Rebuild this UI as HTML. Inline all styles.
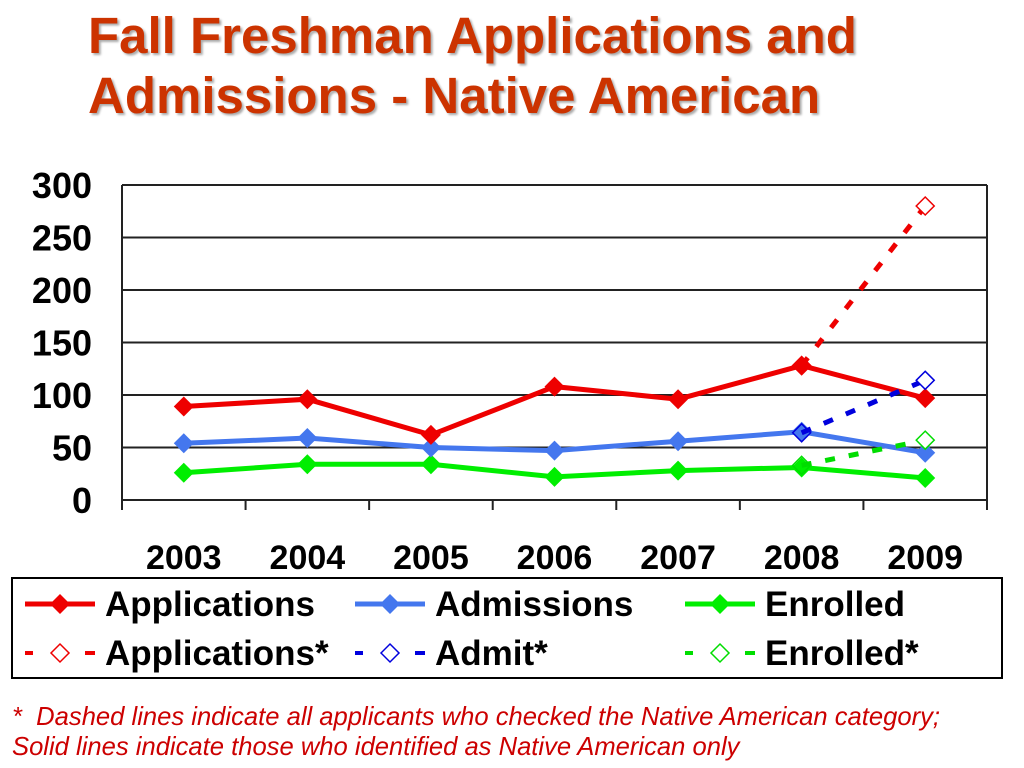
<!DOCTYPE html>
<html><head><meta charset="utf-8"><style>
body{margin:0;background:#fff;width:1024px;height:768px;overflow:hidden;font-family:"Liberation Sans",Arial,sans-serif}
.t{position:absolute;left:88px;top:6px;font-size:51px;font-weight:bold;color:#cc3300;line-height:60px;text-shadow:2px 2px 2px #aaa;white-space:nowrap}
.note{position:absolute;left:12px;top:702px;font-size:25.6px;font-style:italic;color:#cc0000;line-height:30px;white-space:nowrap}
</style></head><body>
<div class="t">Fall Freshman Applications and<br>Admissions - Native American</div>
<svg id="c" width="1024" height="768" style="position:absolute;left:0;top:0"></svg>
<div class="note">*&nbsp; Dashed lines indicate all applicants who checked the Native American category;<br>Solid lines indicate those who identified as Native American only</div>
<script>
const categories=["2003","2004","2005","2006","2007","2008","2009"];
const applications=[89,96,62,108,96,128,97];
const admissions=[54,59,50,47,56,65,45];
const enrolled=[26,34,34,22,28,31,21];
const applicationsStar=[128,280];
const admitStar=[64,114];
const enrolledStar=[33,57];
const yTicks=[0,50,100,150,200,250,300];
const NS="http://www.w3.org/2000/svg";
const svg=document.getElementById('c');
const L=122,R=987,T=185,B=500,ymax=300;
const bw=(R-L)/categories.length;
const x=i=>L+bw*(i+0.5);
const y=v=>B-(v/ymax)*(B-T);
function mk(tag,a,txt){const e=document.createElementNS(NS,tag);for(const k in a)e.setAttribute(k,a[k]);if(txt!==undefined)e.textContent=txt;svg.appendChild(e);return e;}
yTicks.forEach(v=>{
 const g=mk('line',{x1:L,x2:R,y1:y(v),y2:y(v),stroke:'#222','stroke-width':2});
 
 
 const t=mk('text',{x:92,y:y(v)+13,'text-anchor':'end','font-size':36,'font-weight':'bold',fill:'#000'},v);
 
 
});
mk('line',{x1:L,x2:L,y1:T,y2:B,stroke:'#222','stroke-width':2});
mk('line',{x1:R,x2:R,y1:T,y2:B,stroke:'#222','stroke-width':2});
for(let i=0;i<=categories.length;i++){mk('line',{x1:L+bw*i,x2:L+bw*i,y1:B,y2:B+10,stroke:'#222','stroke-width':2});}
categories.forEach((c,i)=>{
 const t=mk('text',{x:x(i),y:569,'text-anchor':'middle','font-size':34,'font-weight':'bold',fill:'#000'},c);
 
 
});
function series(vals,color,name){
 const p=mk('polyline',{points:vals.map((v,i)=>x(i)+','+y(v)).join(' '),fill:'none',stroke:color,'stroke-width':5});
 
 
 vals.forEach((v,i)=>{
  const d=mk('polygon',{points:`${x(i)},${y(v)-10} ${x(i)+10},${y(v)} ${x(i)},${y(v)+10} ${x(i)-10},${y(v)}`,fill:color});
  
  
 });
}
function dashed(vals,color,name){
 const i0=5;
 const p=mk('polyline',{points:vals.map((v,k)=>x(i0+k)+','+y(v)).join(' '),fill:'none',stroke:color,'stroke-width':5,'stroke-dasharray':'10 14'});
 
 
 vals.forEach((v,k)=>{const xx=x(i0+k);
  const d=mk('polygon',{points:`${xx},${y(v)-9} ${xx+9},${y(v)} ${xx},${y(v)+9} ${xx-9},${y(v)}`,fill:k?'#fff':'none',stroke:color,'stroke-width':1.5});
  
  
 });
}
series(enrolled,'#00ee00','enrolled');
series(admissions,'#4477ee','admissions');
series(applications,'#ee0000','applications');
dashed(enrolledStar,'#00dd00','enrolled-star');
dashed(admitStar,'#0000dd','admit-star');
dashed(applicationsStar,'#ee0000','applications-star');
mk('rect',{x:12,y:578,width:990,height:100,fill:'none',stroke:'#000','stroke-width':2});
const leg=[[25,604,'#ee0000','Applications',0],[355,604,'#4477ee','Admissions',0],[685,604,'#00ee00','Enrolled',0],
[25,653,'#ee0000','Applications*',1],[355,653,'#0000dd','Admit*',1],[685,653,'#00dd00','Enrolled*',1]];
leg.forEach(([lx,ly,c,lab,d])=>{
 if(d){mk('line',{x1:lx,x2:lx+70,y1:ly,y2:ly,stroke:c,'stroke-width':4,'stroke-dasharray':'8 52'});
  mk('line',{x1:lx+62,x2:lx+70,y1:ly,y2:ly,stroke:c,'stroke-width':4});
  mk('polygon',{points:`${lx+35},${ly-9} ${lx+44},${ly} ${lx+35},${ly+9} ${lx+26},${ly}`,fill:'#fff',stroke:c,'stroke-width':1.5});}
 else{mk('line',{x1:lx,x2:lx+70,y1:ly,y2:ly,stroke:c,'stroke-width':5});
  mk('polygon',{points:`${lx+35},${ly-10} ${lx+45},${ly} ${lx+35},${ly+10} ${lx+25},${ly}`,fill:c});}
 const t=mk('text',{x:lx+80,y:ly+12,'font-size':35,'font-weight':'bold',fill:'#000'},lab);
 
 
});
</script>
</body></html>
